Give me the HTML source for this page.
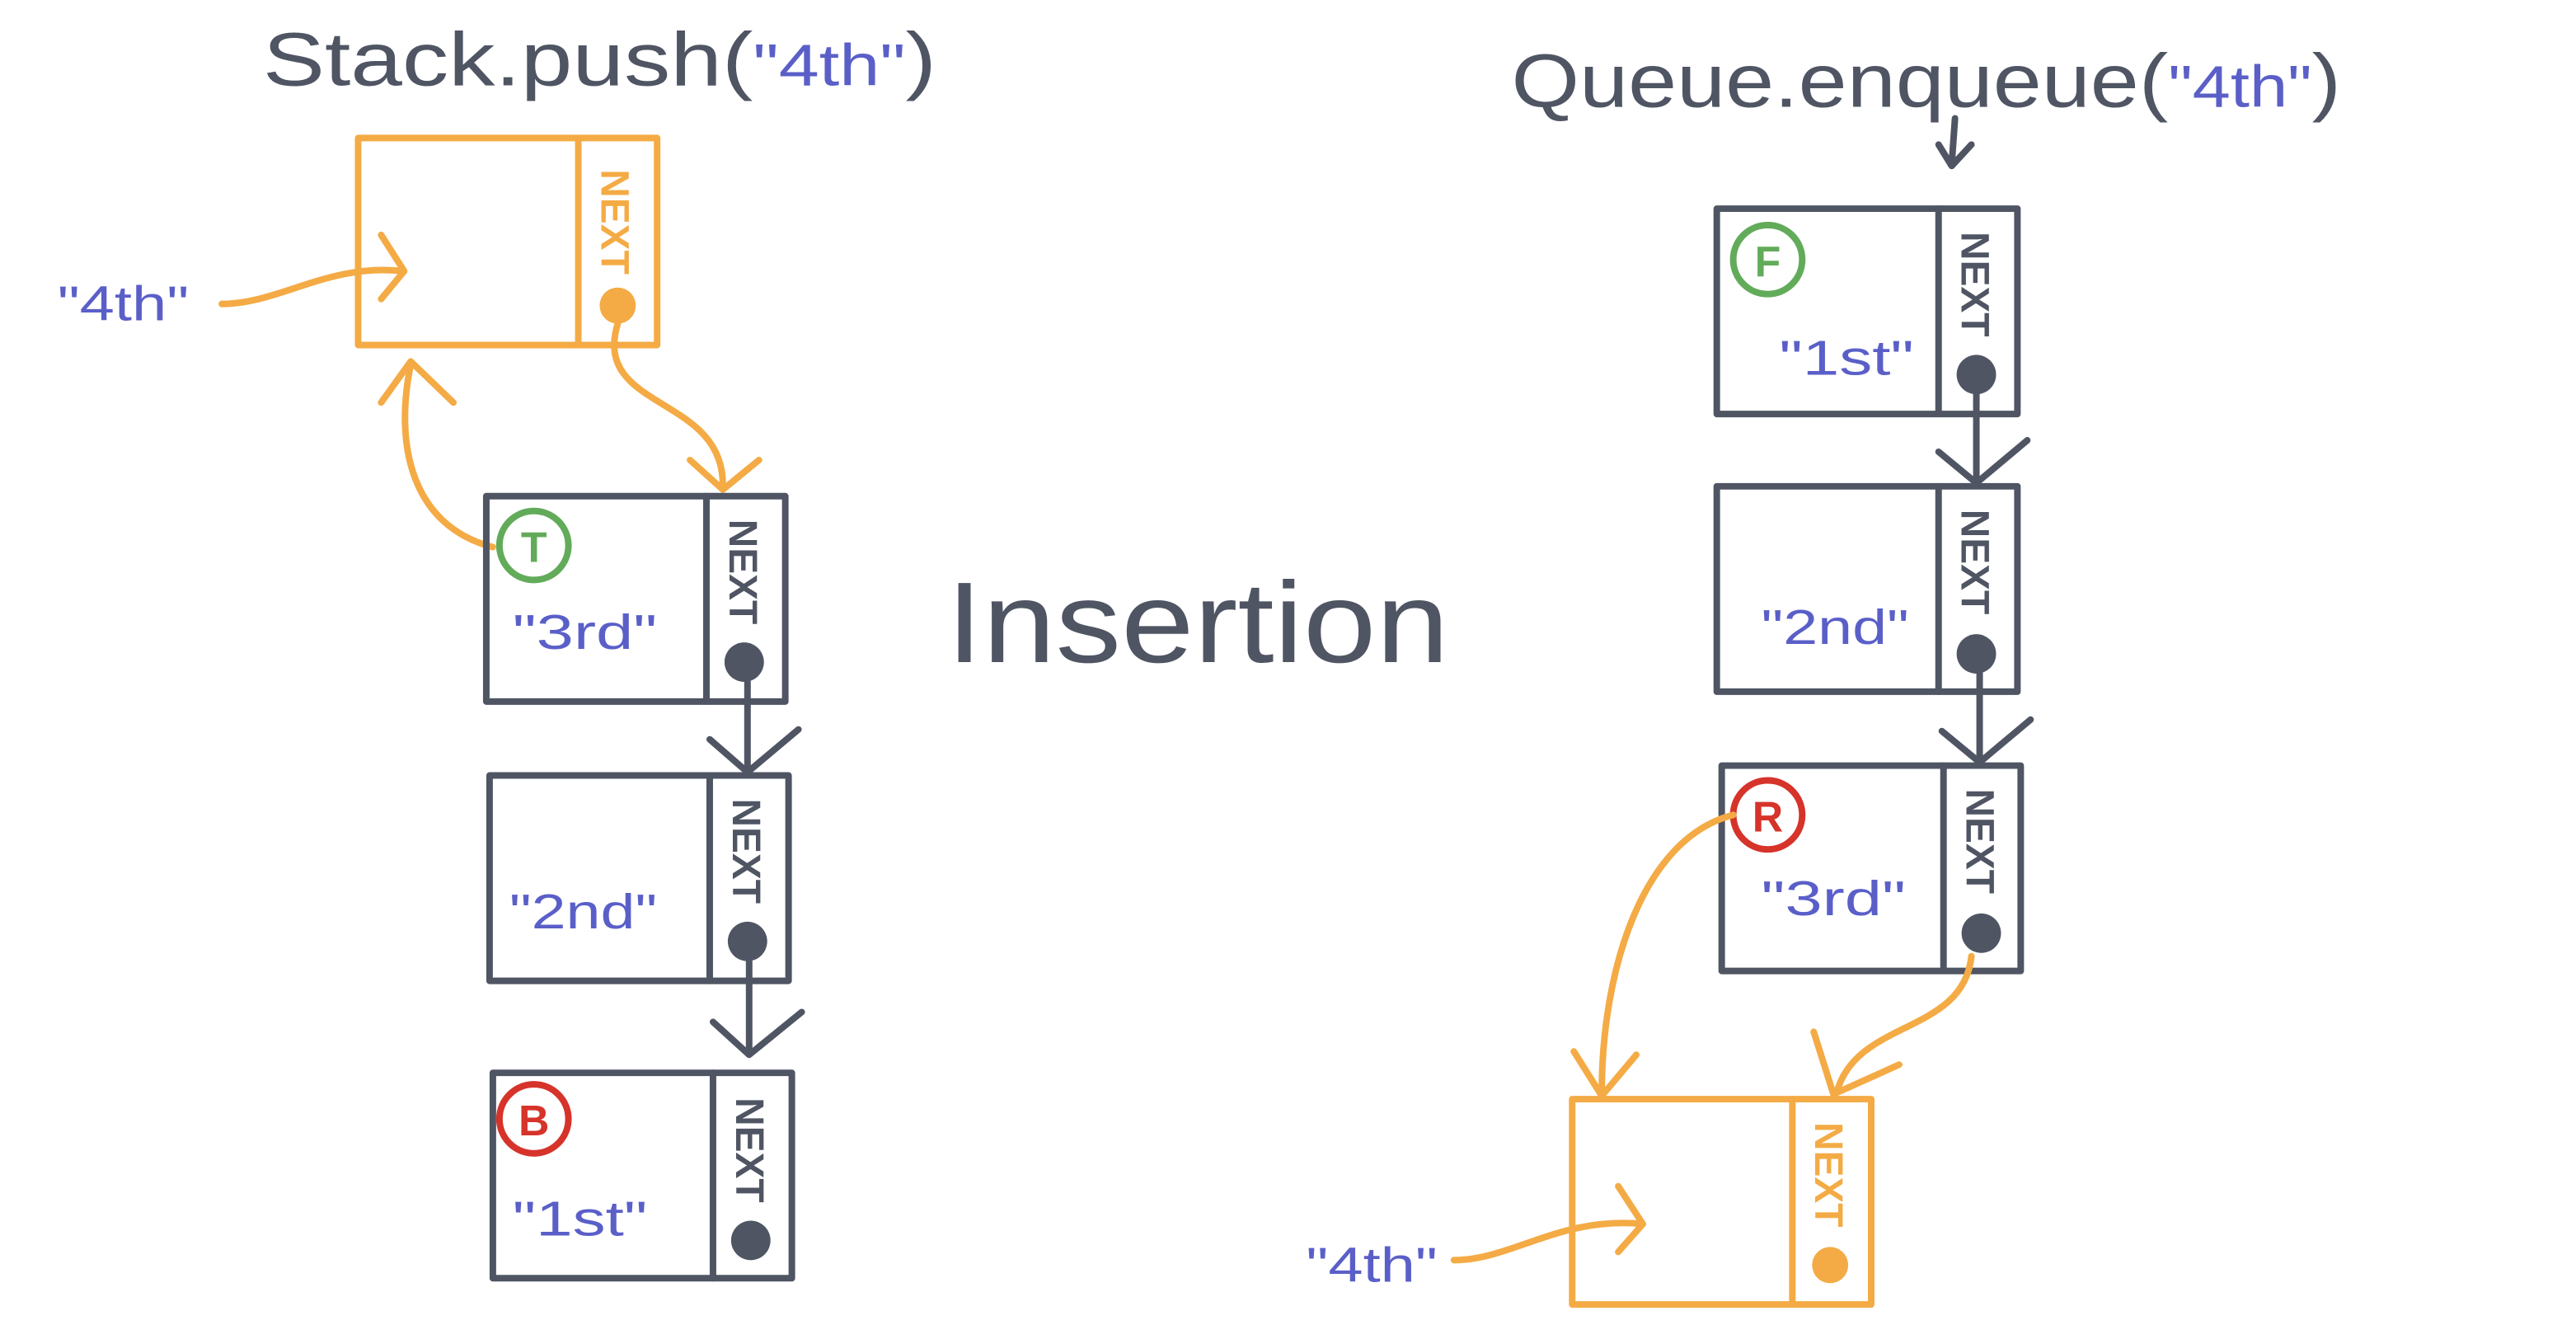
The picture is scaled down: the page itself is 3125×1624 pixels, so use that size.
<!DOCTYPE html>
<html><head><meta charset="utf-8"><style>
html,body{margin:0;padding:0;background:#fff;width:3125px;height:1624px;overflow:hidden}
svg{display:block}
text{font-family:"Liberation Sans",sans-serif}
</style></head><body>
<svg width="3125" height="1624" viewBox="0 0 1568 815" preserveAspectRatio="none">
<g fill="none" stroke-width="4" stroke-linecap="round" stroke-linejoin="round">

<text x="160" y="52" font-size="46" fill="#4f5563" stroke="none" textLength="410" lengthAdjust="spacingAndGlyphs">Stack.push(<tspan fill="#5a5fc8" font-size="36">"4th"</tspan>)</text>

<g>
<rect x="218" y="84" width="182" height="126" stroke="#f4ab45"/>
<line x1="352" y1="84" x2="352" y2="210" stroke="#f4ab45"/>
<text font-size="24" font-weight="bold" fill="#f4ab45" stroke="none" text-anchor="middle" transform="translate(366,135) rotate(90)">NEXT</text>
<circle cx="376" cy="186" r="11" fill="#f4ab45" stroke="none"/>
</g>
<text x="35" y="195" font-size="30" fill="#5a5fc8" stroke="none" textLength="80" lengthAdjust="spacingAndGlyphs">"4th"</text>
<path d="M135 185 C170 185 200 160 245 165 M232 143 L246 165 L232 182" stroke="#f4ab45"/>
<path d="M376 197 C360 250 440 240 440 295 M420 280 L440 298 L462 280" stroke="#f4ab45"/>
<path d="M300 333 C250 320 240 270 250 222 M232 245 L250 220 L276 245" stroke="#f4ab45"/>

<g>
<rect x="296" y="302" width="182" height="125" stroke="#4f5563"/>
<line x1="430" y1="302" x2="430" y2="427" stroke="#4f5563"/>
<text font-size="24" font-weight="bold" fill="#4f5563" stroke="none" text-anchor="middle" transform="translate(444,348) rotate(90)">NEXT</text>
<circle cx="453" cy="403" r="12" fill="#4f5563" stroke="none"/>
<circle cx="325" cy="332" r="21" stroke="#62ab5a"/>
<text x="325" y="342" font-size="26" font-weight="bold" fill="#62ab5a" stroke="none" text-anchor="middle">T</text>
<text x="312" y="395" font-size="30" fill="#5a5fc8" stroke="none" textLength="88" lengthAdjust="spacingAndGlyphs">"3rd"</text>
</g>
<path d="M455 415 L455 468 M432 450 L455 470 L486 444" stroke="#4f5563"/>
<g>
<rect x="298" y="472" width="182" height="125" stroke="#4f5563"/>
<line x1="432" y1="472" x2="432" y2="597" stroke="#4f5563"/>
<text font-size="24" font-weight="bold" fill="#4f5563" stroke="none" text-anchor="middle" transform="translate(446,518) rotate(90)">NEXT</text>
<circle cx="455" cy="573" r="12" fill="#4f5563" stroke="none"/>
<text x="310" y="565" font-size="30" fill="#5a5fc8" stroke="none" textLength="90" lengthAdjust="spacingAndGlyphs">"2nd"</text>
</g>
<path d="M456 585 L456 640 M434 622 L456 642 L488 616" stroke="#4f5563"/>
<g>
<rect x="300" y="653" width="182" height="125" stroke="#4f5563"/>
<line x1="434" y1="653" x2="434" y2="778" stroke="#4f5563"/>
<text font-size="24" font-weight="bold" fill="#4f5563" stroke="none" text-anchor="middle" transform="translate(448,700) rotate(90)">NEXT</text>
<circle cx="457" cy="755" r="12" fill="#4f5563" stroke="none"/>
<circle cx="325" cy="681" r="21" stroke="#d6332a"/>
<text x="325" y="691" font-size="26" font-weight="bold" fill="#d6332a" stroke="none" text-anchor="middle">B</text>
<text x="312" y="752" font-size="30" fill="#5a5fc8" stroke="none" textLength="82" lengthAdjust="spacingAndGlyphs">"1st"</text>
</g>

<text x="576" y="403" font-size="70" fill="#4f5563" stroke="none" textLength="306" lengthAdjust="spacingAndGlyphs">Insertion</text>

<text x="920" y="65" font-size="46" fill="#4f5563" stroke="none" textLength="505" lengthAdjust="spacingAndGlyphs">Queue.enqueue(<tspan fill="#5a5fc8" font-size="36">"4th"</tspan>)</text>
<path d="M1190 72 L1188 100 M1180 88 L1188 101 L1200 88" stroke="#4f5563"/>

<g>
<rect x="1045" y="127" width="183" height="125" stroke="#4f5563"/>
<line x1="1180" y1="127" x2="1180" y2="252" stroke="#4f5563"/>
<text font-size="24" font-weight="bold" fill="#4f5563" stroke="none" text-anchor="middle" transform="translate(1194,173) rotate(90)">NEXT</text>
<circle cx="1203" cy="228" r="12" fill="#4f5563" stroke="none"/>
<circle cx="1076" cy="158" r="21" stroke="#62ab5a"/>
<text x="1076" y="168" font-size="26" font-weight="bold" fill="#62ab5a" stroke="none" text-anchor="middle">F</text>
<text x="1083" y="228" font-size="30" fill="#5a5fc8" stroke="none" textLength="82" lengthAdjust="spacingAndGlyphs">"1st"</text>
</g>
<path d="M1203 240 L1203 292 M1180 275 L1203 294 L1234 268" stroke="#4f5563"/>
<g>
<rect x="1045" y="296" width="183" height="125" stroke="#4f5563"/>
<line x1="1180" y1="296" x2="1180" y2="421" stroke="#4f5563"/>
<text font-size="24" font-weight="bold" fill="#4f5563" stroke="none" text-anchor="middle" transform="translate(1194,342) rotate(90)">NEXT</text>
<circle cx="1203" cy="398" r="12" fill="#4f5563" stroke="none"/>
<text x="1072" y="392" font-size="30" fill="#5a5fc8" stroke="none" textLength="90" lengthAdjust="spacingAndGlyphs">"2nd"</text>
</g>
<path d="M1205 410 L1205 462 M1182 445 L1205 464 L1236 438" stroke="#4f5563"/>
<g>
<rect x="1048" y="466" width="182" height="125" stroke="#4f5563"/>
<line x1="1183" y1="466" x2="1183" y2="591" stroke="#4f5563"/>
<text font-size="24" font-weight="bold" fill="#4f5563" stroke="none" text-anchor="middle" transform="translate(1197,512) rotate(90)">NEXT</text>
<circle cx="1206" cy="568" r="12" fill="#4f5563" stroke="none"/>
<circle cx="1076" cy="496" r="21" stroke="#d6332a"/>
<text x="1076" y="506" font-size="26" font-weight="bold" fill="#d6332a" stroke="none" text-anchor="middle">R</text>
<text x="1072" y="557" font-size="30" fill="#5a5fc8" stroke="none" textLength="88" lengthAdjust="spacingAndGlyphs">"3rd"</text>
</g>
<path d="M1055 496 C1000 510 975 590 975 665 M958 640 L975 667 L996 642" stroke="#f4ab45"/>
<path d="M1200 582 C1195 630 1130 620 1118 665 M1104 628 L1116 666 L1156 648" stroke="#f4ab45"/>

<g>
<rect x="957" y="669" width="182" height="125" stroke="#f4ab45"/>
<line x1="1091" y1="669" x2="1091" y2="794" stroke="#f4ab45"/>
<text font-size="24" font-weight="bold" fill="#f4ab45" stroke="none" text-anchor="middle" transform="translate(1105,715) rotate(90)">NEXT</text>
<circle cx="1114" cy="770" r="11" fill="#f4ab45" stroke="none"/>
</g>
<text x="795" y="780" font-size="30" fill="#5a5fc8" stroke="none" textLength="80" lengthAdjust="spacingAndGlyphs">"4th"</text>
<path d="M885 767 C920 767 950 740 1000 745 M985 722 L1000 745 L985 762" stroke="#f4ab45"/>
</g>
</svg>
</body></html>
